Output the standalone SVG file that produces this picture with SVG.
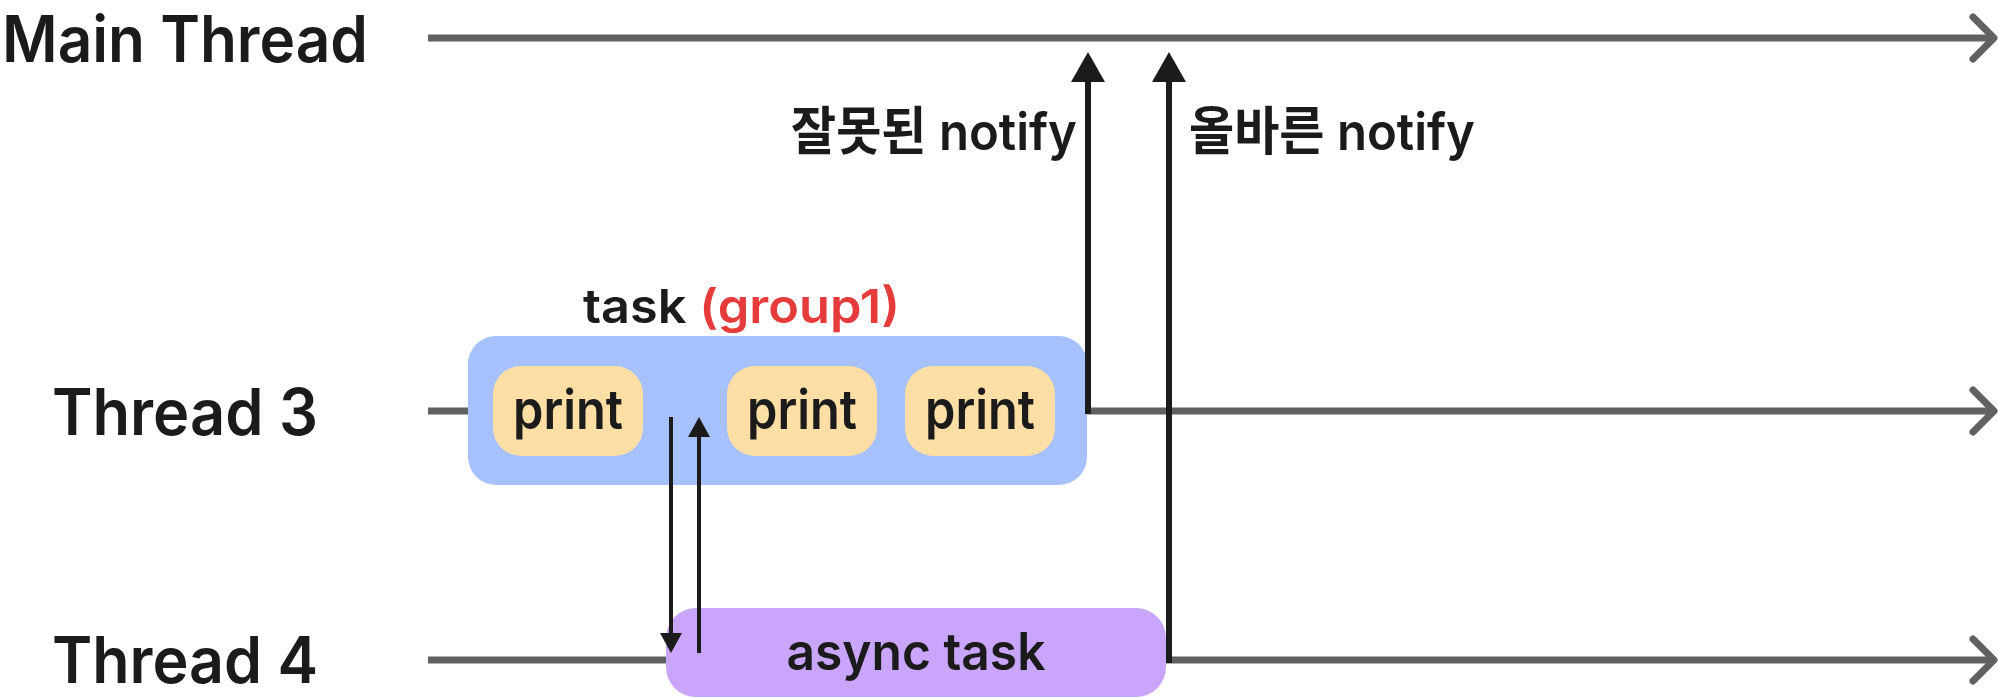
<svg xmlns="http://www.w3.org/2000/svg" xmlns:xlink="http://www.w3.org/1999/xlink" width="1998" height="698" viewBox="0 0 1998 698">
<style>
  text { font-family: Inter, "Noto Sans", "Noto Sans CJK KR", sans-serif; font-weight: 600; fill: #1b1b1b; }
  .lane { font-size: 64px; }
  .lbl { font-size: 52px; }
  .print { font-size: 54px; text-anchor: middle; }
  .timeline { stroke: #616161; stroke-width: 7; fill: none; }
  .chev { stroke: #616161; stroke-width: 7; fill: none; stroke-linecap: round; stroke-linejoin: round; }
  .notify { stroke: #1b1b1b; stroke-width: 6; fill: none; }
  .call { stroke: #1b1b1b; stroke-width: 4; fill: none; }
  .group { fill: #a6c1fd; }
  .printbox { fill: #fddfa5; }
  .async { fill: #c9a6fb; }
</style>
<defs>
  <marker id="bigHead" markerUnits="userSpaceOnUse" viewBox="0 0 30 34" refX="0" refY="17" markerWidth="30" markerHeight="34" orient="auto">
    <path d="M0,0 L30,17 L0,34 Z" fill="#1b1b1b"/>
  </marker>
  <marker id="smallHead" markerUnits="userSpaceOnUse" viewBox="0 0 20 22" refX="0" refY="11" markerWidth="20" markerHeight="22" orient="auto">
    <path d="M0,0 L20,11 L0,22 Z" fill="#1b1b1b"/>
  </marker>
  <path id="chevron" class="chev" d="M-21,-21 L0,0 L-21,21"/>
</defs>

<g id="timelines">
  <g id="main-thread">
    <text class="lane" x="2" y="62" textLength="366" lengthAdjust="spacingAndGlyphs">Main Thread</text>
    <line class="timeline" x1="428" y1="38" x2="1994" y2="38"/>
    <use xlink:href="#chevron" x="1994" y="38"/>
  </g>
  <g id="thread-3">
    <text class="lane" x="52" y="435" textLength="266" lengthAdjust="spacingAndGlyphs">Thread 3</text>
    <line class="timeline" x1="428" y1="411" x2="1994" y2="411"/>
    <use xlink:href="#chevron" x="1994" y="411"/>
  </g>
  <g id="thread-4">
    <text class="lane" x="52" y="683" textLength="266" lengthAdjust="spacingAndGlyphs">Thread 4</text>
    <line class="timeline" x1="428" y1="660" x2="1994" y2="660"/>
    <use xlink:href="#chevron" x="1994" y="660"/>
  </g>
</g>

<g id="task-group1">
  <text x="583" y="323" font-size="47" textLength="317" lengthAdjust="spacingAndGlyphs">task <tspan fill="#e53b3b">(group1)</tspan></text>
  <rect class="group" x="468" y="336" width="619" height="149" rx="28"/>
</g>

<g id="print-1">
  <rect class="printbox" x="493" y="366" width="150" height="90" rx="28"/>
  <text class="print" x="568" y="429" textLength="110" lengthAdjust="spacingAndGlyphs">print</text>
</g>
<g id="print-2">
  <rect class="printbox" x="727" y="366" width="150" height="90" rx="28"/>
  <text class="print" x="802" y="429" textLength="110" lengthAdjust="spacingAndGlyphs">print</text>
</g>
<g id="print-3">
  <rect class="printbox" x="905" y="366" width="150" height="90" rx="28"/>
  <text class="print" x="980" y="429" textLength="110" lengthAdjust="spacingAndGlyphs">print</text>
</g>

<g id="async-task">
  <rect class="async" x="666" y="608" width="500" height="89" rx="30"/>
  <text x="916" y="670" font-size="52" text-anchor="middle" textLength="259" lengthAdjust="spacingAndGlyphs">async task</text>
</g>

<g id="connectors">
  <line class="call" x1="671" y1="417" x2="671" y2="633" marker-end="url(#smallHead)"/>
  <line class="call" x1="699" y1="653" x2="699" y2="437" marker-end="url(#smallHead)"/>
  <line class="notify" x1="1088" y1="414" x2="1088" y2="82" marker-end="url(#bigHead)"/>
  <line class="notify" x1="1169" y1="663" x2="1169" y2="82" marker-end="url(#bigHead)"/>
  <text class="lbl" x="1077" y="150" text-anchor="end" textLength="286" lengthAdjust="spacingAndGlyphs">잘못된 notify</text>
  <text class="lbl" x="1189" y="150" textLength="286" lengthAdjust="spacingAndGlyphs">올바른 notify</text>
</g>
</svg>
